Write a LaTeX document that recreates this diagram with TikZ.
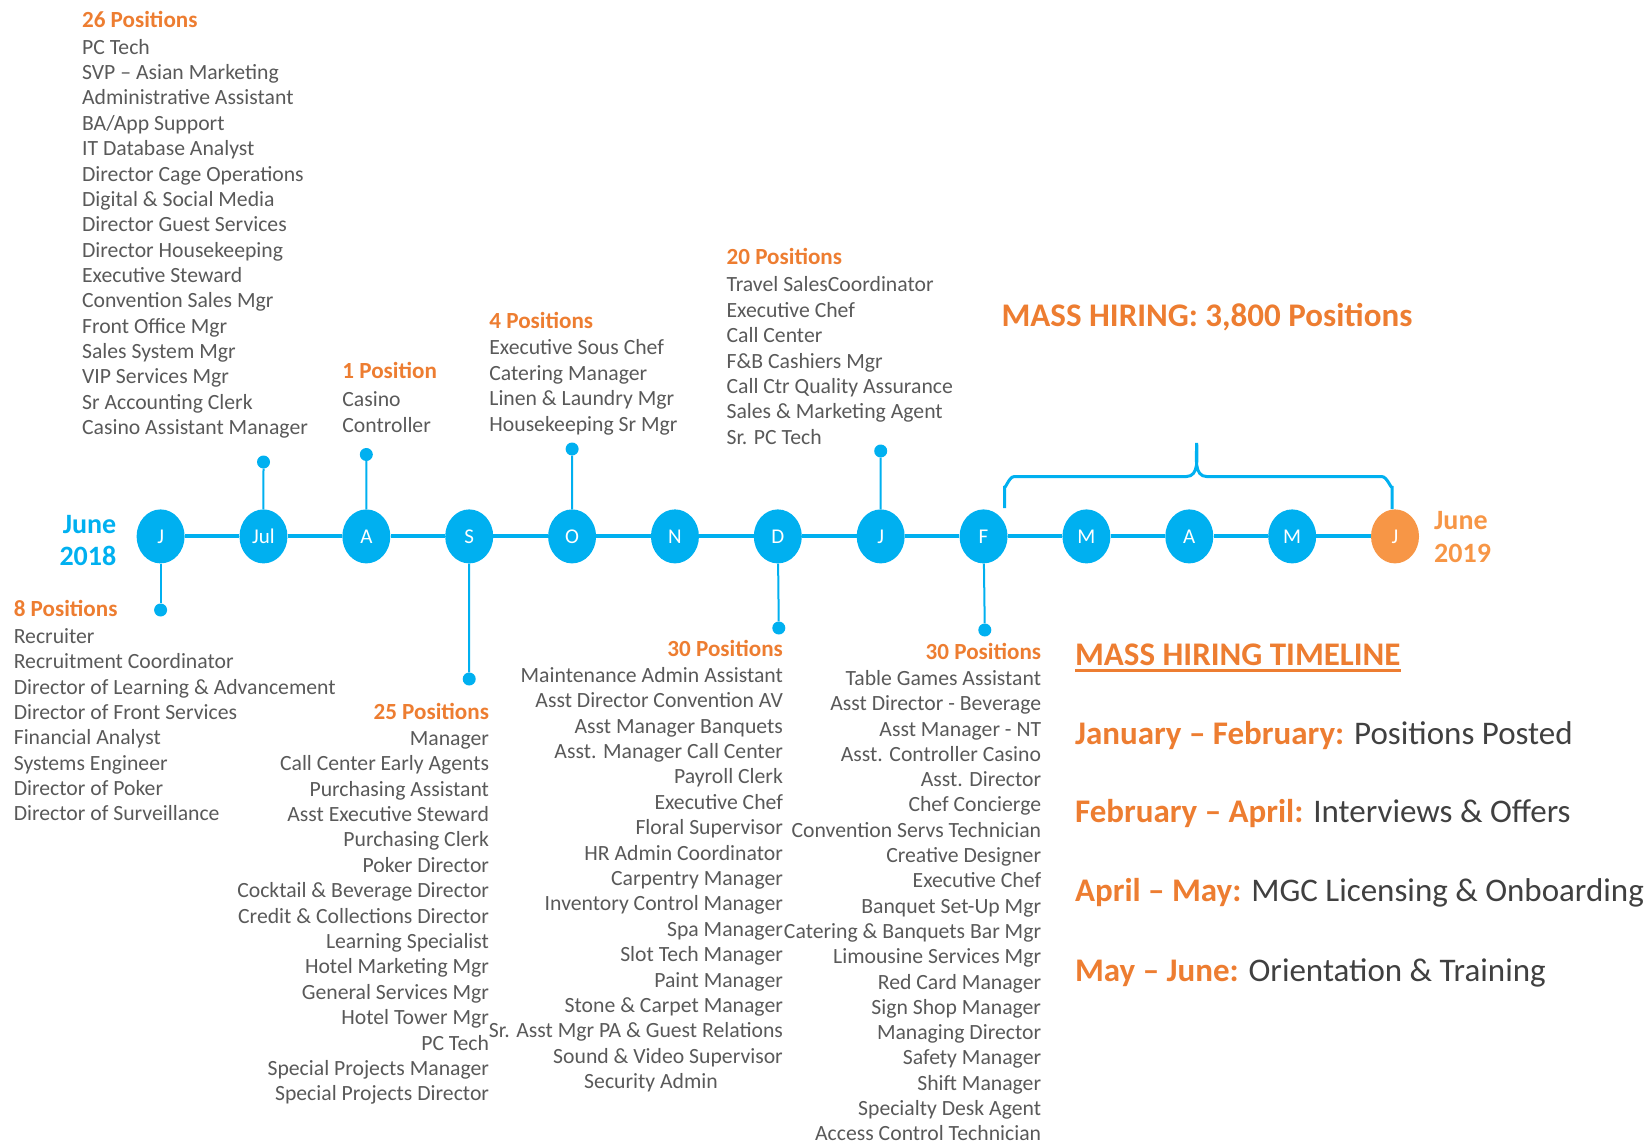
\documentclass[tikz,border=0pt]{standalone}
\usepackage{fontspec}
\setmainfont{Carlito}
\usetikzlibrary{shapes.geometric}
\definecolor{tlblue}{HTML}{00B0F0}
\definecolor{tlorange}{HTML}{ED7D31}
\definecolor{tllight}{HTML}{F79646}
\definecolor{tlgray}{HTML}{595959}
\definecolor{tldark}{HTML}{404040}
\tikzset{
  month/.style={ellipse, fill=tlblue, minimum width=48pt, minimum height=54pt, inner sep=0pt, text=white, font=\fontsize{21}{25}\selectfont},
  tick/.style={circle, fill=tlblue, minimum size=13pt, inner sep=0pt},
  axis/.style={draw=tlblue, line width=4pt},
  stem/.style={draw=tlblue, line width=2pt},
  item/.style={text=tlgray, font=\fontsize{21.7}{25}\selectfont, inner sep=0pt, yshift=-5pt},
  head/.style={text=tlorange, font=\fontsize{23.1}{26}\selectfont\bfseries, inner sep=0pt, yshift=-5pt},
  big/.style={text=tlorange, font=\fontsize{33}{38}\selectfont\bfseries, inner sep=0pt, anchor=mid west, yshift=-9pt},
  phase/.style={text=tldark, font=\fontsize{33}{38}\selectfont, inner sep=0pt, anchor=mid west, yshift=-9pt},
  yearb/.style={text=tlblue, font=\fontsize{28}{32}\selectfont\bfseries, inner sep=0pt, anchor=mid east, yshift=-7pt},
  yearo/.style={text=tllight, font=\fontsize{28}{32}\selectfont\bfseries, inner sep=0pt, anchor=mid west, yshift=-7pt},
  bracket/.style={draw=tlblue, line width=3pt},
}
\newcommand\joblist[6]{%
  \foreach \t [count=\k] in {#6} {
    \node[item, anchor=#5] (#1-\k) at (#2, {#3+(\k-1)*#4}) {\t};
  }}
\begin{document}
\begin{tikzpicture}[x=1pt, y=-1pt]
\useasboundingbox (0,0) rectangle (1646,1142);

% timeline
\foreach \m [count=\i] in {J,Jul,A,S,O,N,D,J,F,M,A,M}
  \node[month] (c\i) at ({160.6+(\i-1)*102.87},536.4) {\m};
\node[month, fill=tllight] (c13) at (1395,536.4) {J};
\foreach \i [evaluate=\i as \j using int(\i+1)] in {1,...,12}
  \draw[axis] (c\i) -- (c\j);

\node[yearb] (y1a) at (116.5,523.8) {June};
\node[yearb] (y1b) at (116.5,556.3) {2018};
\node[yearo] (y2a) at (1434,520.6) {June};
\node[yearo] (y2b) at (1434,553.2) {2019};

% stems and dots
\node[tick] (d1) at (160.6,610) {};   \draw[stem] (c1) -- (d1);
\node[tick] (d2) at (263.5,462) {};   \draw[stem] (c2) -- (d2);
\node[tick] (d3) at (366.3,454.5) {}; \draw[stem] (c3) -- (d3);
\node[tick] (d4) at (469.2,679) {};   \draw[stem] (c4) -- (d4);
\node[tick] (d5) at (572.1,449) {};   \draw[stem] (c5) -- (d5);
\node[tick] (d7) at (778.8,628) {};   \draw[stem] (c7) -- (d7);
\node[tick] (d8) at (880.7,451) {};   \draw[stem] (c8) -- (d8);
\node[tick] (d9) at (984.8,630) {};   \draw[stem] (c9) -- (d9);

% bracket over F..J
\draw[bracket] (1004.6,508) -- (1004.6,486) to[out=-90,in=180] (1014,476.6) -- (1186,476.6)
  to[out=0,in=-90] (1196.7,443) to[out=-90,in=180] (1207,476.6) -- (1382,476.6)
  to[out=0,in=-90] (1392,486) -- (1392,509);

\node[big] (mass) at (1001.4,314.9) {MASS HIRING: 3,800 Positions};

% top blocks
\node[head, anchor=mid west] (h1) at (81.9,19.9) {26 Positions};
\joblist{b1}{81.9}{46.9}{25.35}{mid west}{PC Tech,SVP – Asian Marketing,Administrative Assistant,BA/App Support,IT Database Analyst,Director Cage Operations,Digital \& Social Media,Director Guest Services,Director Housekeeping,Executive Steward,Convention Sales Mgr,Front Office Mgr,Sales System Mgr,VIP Services Mgr,Sr Accounting Clerk,Casino Assistant Manager}

\node[head, anchor=mid west] (h3) at (342.2,371.6) {1 Position};
\joblist{b3}{342.2}{398.9}{26.2}{mid west}{Casino,Controller}

\node[head, anchor=mid west] (h5) at (489.2,321.2) {4 Positions};
\joblist{b5}{489.2}{347.4}{25.6}{mid west}{Executive Sous Chef,Catering Manager,Linen \& Laundry Mgr,Housekeeping Sr Mgr}

\node[head, anchor=mid west] (h8) at (726.4,257.2) {20 Positions};
\joblist{b8}{726.4}{284.5}{25.4}{mid west}{Travel SalesCoordinator,Executive Chef,Call Center,F\&B Cashiers Mgr,Call Ctr Quality Assurance,Sales \& Marketing Agent,Sr. PC Tech}

% bottom blocks
\node[head, anchor=mid west] (h1b) at (13.6,608.8) {8 Positions};
\joblist{b1b}{13.6}{636.1}{25.34}{mid west}{Recruiter,Recruitment Coordinator,Director of Learning \& Advancement,Director of Front Services,Financial Analyst,Systems Engineer,Director of Poker,Director of Surveillance}

\node[head, anchor=mid east] (h4) at (489.2,711.7) {25 Positions};
\joblist{b4}{489.2}{737.9}{25.4}{mid east}{Manager,Call Center Early Agents,Purchasing Assistant,Asst Executive Steward,Purchasing Clerk,Poker Director,Cocktail \& Beverage Director,Credit \& Collections Director,Learning Specialist,Hotel Marketing Mgr,General Services Mgr,Hotel Tower Mgr,PC Tech,Special Projects Manager,Special Projects Director}

\node[head, anchor=mid east] (h7) at (783.1,648.7) {30 Positions};
\joblist{b7}{783.1}{675}{25.39}{mid east}{Maintenance Admin Assistant,Asst Director Convention AV,Asst Manager Banquets,Asst. Manager Call Center,Payroll Clerk,Executive Chef,Floral Supervisor,HR Admin Coordinator,Carpentry Manager,Inventory Control Manager,Spa Manager,Slot Tech Manager,Paint Manager,Stone \& Carpet Manager,Sr. Asst Mgr PA \& Guest Relations,Sound \& Video Supervisor}
\node[item, anchor=mid east] (b7-17) at (718,1081.2) {Security Admin};

\node[head, anchor=mid east] (h9) at (1041.3,651.9) {30 Positions};
\joblist{b9}{1041.3}{678.1}{25.3}{mid east}{Table Games Assistant,Asst Director - Beverage,Asst Manager  - NT,Asst. Controller Casino,Asst. Director,Chef Concierge,Convention Servs Technician,Creative Designer,Executive Chef,Banquet Set-Up Mgr,Catering \& Banquets Bar Mgr,Limousine Services Mgr,Red Card Manager,Sign Shop Manager,Managing Director,Safety Manager,Shift Manager,Specialty Desk Agent,Access Control Technician}

% legend
\node[big] (title) at (1074.9,654) {MASS HIRING TIMELINE};
\draw[tlorange, line width=2.5pt] ([yshift=-5pt]title.base west) -- ([yshift=-5pt]title.base east);
\node[phase] (p1) at (1074.9,732.7) {{\color{tlorange}\bfseries January – February:} Positions Posted};
\node[phase] (p2) at (1074.9,811.4) {{\color{tlorange}\bfseries February – April:} Interviews \& Offers};
\node[phase] (p3) at (1074.9,890.1) {{\color{tlorange}\bfseries April – May:} MGC Licensing \& Onboarding};
\node[phase] (p4) at (1074.9,969.9) {{\color{tlorange}\bfseries May – June:} Orientation \& Training};
\end{tikzpicture}
\end{document}
